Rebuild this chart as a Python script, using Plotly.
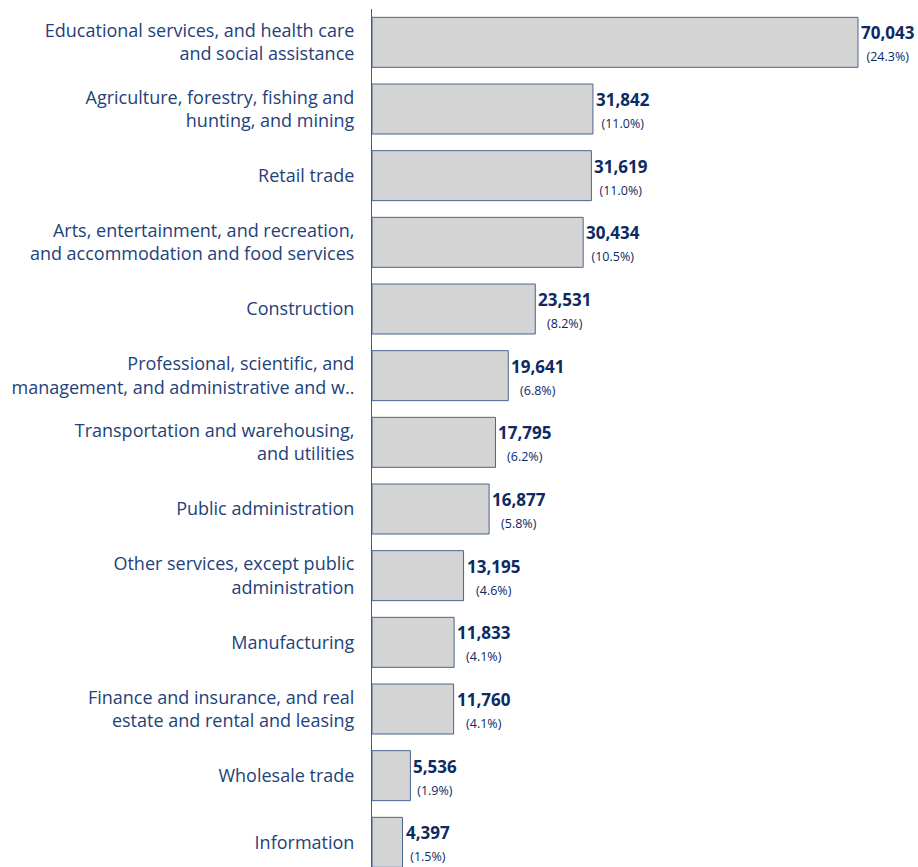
import plotly.graph_objects as go

categories = [
    "Educational services, and health care<br>and social assistance",
    "Agriculture, forestry, fishing and<br>hunting, and mining",
    "Retail trade",
    "Arts, entertainment, and recreation,<br>and accommodation and food services",
    "Construction",
    "Professional, scientific, and<br>management, and administrative and w..",
    "Transportation and warehousing,<br>and utilities",
    "Public administration",
    "Other services, except public<br>administration",
    "Manufacturing",
    "Finance and insurance, and real<br>estate and rental and leasing",
    "Wholesale trade",
    "Information",
]
values = [70043, 31842, 31619, 30434, 23531, 19641, 17795, 16877, 13195, 11833, 11760, 5536, 4397]
percents = ["24.3%", "11.0%", "11.0%", "10.5%", "8.2%", "6.8%", "6.2%", "5.8%", "4.6%", "4.1%", "4.1%", "1.9%", "1.5%"]

pos = list(range(len(categories)))
label_color = "#23427a"
value_color = "#0c2a63"
font_family = "Open Sans, Noto Sans, sans-serif"

fig = go.Figure()
fig.add_trace(go.Bar(
    x=values, y=pos, orientation="h", width=0.75,
    marker=dict(color="#d4d4d4", line=dict(color="#4a6494", width=1)),
    hoverinfo="skip",
))

for p, v, pc in zip(pos, values, percents):
    fig.add_annotation(
        x=v, y=p, xref="x", yref="y", xanchor="left", yanchor="middle",
        xshift=1, yshift=-1, showarrow=False, align="center",
        text=f"<b>{v:,}</b><br><span style='font-size:12.5px'>({pc})</span>",
        font=dict(size=17, color=value_color, family=font_family),
    )

fig.update_layout(
    width=918, height=867,
    margin=dict(l=372, r=0, t=9, b=0),
    plot_bgcolor="white", paper_bgcolor="white",
    showlegend=False,
    font=dict(family=font_family),
)
fig.update_xaxes(range=[0, 78690], visible=False, showgrid=False, zeroline=False)
fig.update_yaxes(
    tickmode="array", tickvals=pos, ticktext=categories,
    range=[12.37, -0.5], showgrid=False, zeroline=False,
    showline=True, linecolor="#3b5a8f", linewidth=1,
    ticks="", ticklabelstandoff=13,
    tickfont=dict(size=18, color=label_color, family=font_family),
)

fig.write_html(
    "out.html",
    config={"displayModeBar": False},
    post_script="document.body.style.margin='0';document.body.style.overflow='hidden';",
)
